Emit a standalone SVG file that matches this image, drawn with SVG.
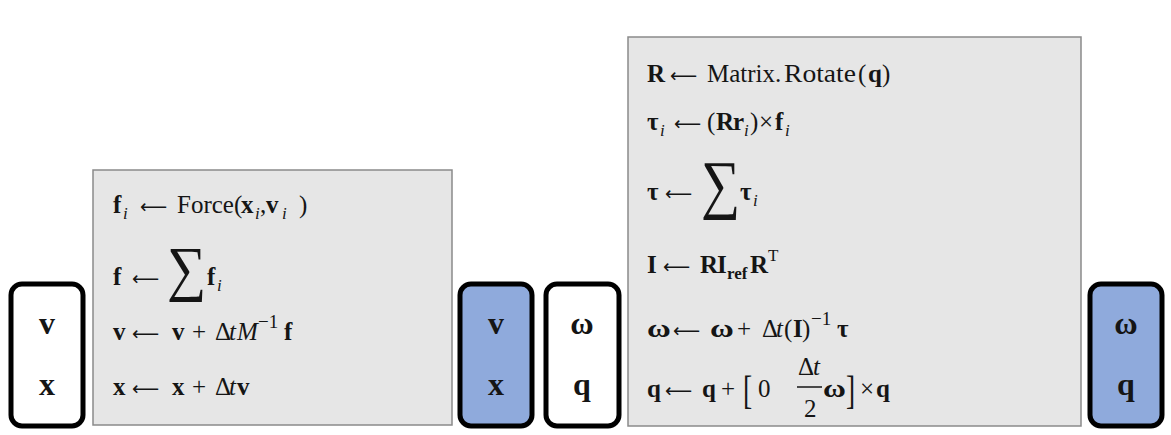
<svg xmlns="http://www.w3.org/2000/svg" width="1171" height="435" viewBox="0 0 1171 435">
<style>
.t{font-family:"Liberation Serif","DejaVu Serif",serif;font-size:25px;fill:#151515}
.b{font-weight:bold}
.i{font-style:italic}
.s{font-size:17px}
.sup{font-size:19px}
.sum{font-size:50px}
.ar{font-family:"DejaVu Sans",sans-serif;font-size:19px;fill:#151515}
.lbl{font-family:"Liberation Serif","DejaVu Serif",serif;font-size:32px;font-weight:bold;text-anchor:middle;fill:#151515}
.gray{fill:#e6e6e6;stroke:#8a8a8a;stroke-width:1.5}
.state{stroke:#000;stroke-width:5}
</style>
<rect width="1171" height="435" fill="#ffffff"/>

<g id="state-in-linear">
<rect class="state" x="11" y="284" width="72" height="142" rx="11" fill="#ffffff"/>
<text class="lbl" x="47" y="334">v</text>
<text class="lbl" x="47" y="395">x</text>
</g>

<g id="linear-update">
<rect class="gray" x="93" y="170" width="359" height="255"/>
<text class="t b" x="113" y="213">f</text><text class="t i s" x="123" y="219">i</text>
<text class="ar" x="140" y="213">⟵</text>
<text class="t" x="177" y="213">Force(</text>
<text class="t b" x="241" y="213">x</text><text class="t i s" x="255" y="219">i</text>
<text class="t" x="260" y="213">,</text>
<text class="t b" x="266" y="213">v</text><text class="t i s" x="282" y="219">i</text>
<text class="t" x="299" y="213">)</text>

<text class="t b" x="113" y="285">f</text>
<text class="ar" x="132" y="285">⟵</text>
<text class="t sum" transform="translate(167,289) scale(1.1,1.22)">∑</text>
<text class="t b" x="207" y="285">f</text><text class="t i s" x="217" y="291">i</text>

<text class="t b" x="113" y="340">v</text>
<text class="ar" x="132" y="340">⟵</text>
<text class="t b" x="172" y="340">v</text>
<text class="t" x="192" y="340">+</text>
<text class="t" x="215" y="340">Δ</text>
<text class="t i" x="229" y="340">t</text>
<text class="t i" x="237" y="340">M</text>
<text class="t sup" x="258" y="328">−1</text>
<text class="t b" x="284" y="340">f</text>

<text class="t b" x="113" y="395">x</text>
<text class="ar" x="132" y="395">⟵</text>
<text class="t b" x="172" y="395">x</text>
<text class="t" x="192" y="395">+</text>
<text class="t" x="215" y="395">Δ</text>
<text class="t i" x="229" y="395">t</text>
<text class="t b" x="237" y="395">v</text>
</g>

<g id="state-out-linear">
<rect class="state" x="460" y="284" width="72" height="142" rx="11" fill="#8faadc"/>
<text class="lbl" x="496" y="334">v</text>
<text class="lbl" x="496" y="395">x</text>
</g>

<g id="state-in-angular">
<rect class="state" x="546" y="284" width="73" height="142" rx="11" fill="#ffffff"/>
<text class="lbl" x="582" y="334">ω</text>
<text class="lbl" x="582" y="395">q</text>
</g>

<g id="angular-update">
<rect class="gray" x="628" y="37" width="453" height="389"/>
<text class="t b" x="647" y="82">R</text>
<text class="ar" x="670" y="82">⟵</text>
<text class="t" x="707" y="82">Matrix.</text>
<text class="t" x="784" y="82" textLength="72" lengthAdjust="spacingAndGlyphs">Rotate</text>
<text class="t" x="858" y="82">(</text>
<text class="t b" x="868" y="82">q</text>
<text class="t" x="882" y="82">)</text>

<text class="t b" x="647" y="130">τ</text><text class="t i s" x="660" y="136">i</text>
<text class="ar" x="674" y="130">⟵</text>
<text class="t" x="707" y="130">(</text>
<text class="t b" x="716" y="130">R</text>
<text class="t b" x="733" y="130">r</text><text class="t i s" x="744" y="136">i</text>
<text class="t" x="750" y="130">)</text>
<text class="t" x="759" y="130">×</text>
<text class="t b" x="775" y="130">f</text><text class="t i s" x="785" y="136">i</text>

<text class="t b" x="647" y="200">τ</text>
<text class="ar" x="665" y="200">⟵</text>
<text class="t sum" transform="translate(701,206) scale(1.1,1.3)">∑</text>
<text class="t b" x="740" y="200">τ</text><text class="t i s" x="753" y="206">i</text>

<text class="t b" x="647" y="273">I</text>
<text class="ar" x="663" y="273">⟵</text>
<text class="t b" x="700" y="273">R</text>
<text class="t b" x="717" y="273">I</text>
<text class="t b s" x="727" y="279">ref</text>
<text class="t b" x="750" y="273">R</text>
<text class="t s" x="768" y="261">T</text>

<text class="t b" transform="translate(647,337) scale(1.3,1)">ω</text>
<text class="ar" x="673" y="337">⟵</text>
<text class="t b" transform="translate(710,337) scale(1.3,1)">ω</text>
<text class="t" x="737" y="337">+</text>
<text class="t" x="762" y="337">Δ</text>
<text class="t i" x="776" y="337">t</text>
<text class="t" x="784" y="337">(</text>
<text class="t b" x="793" y="337">I</text>
<text class="t" x="802" y="337">)</text>
<text class="t sup" x="811" y="325">−1</text>
<text class="t b" x="837" y="337">τ</text>

<text class="t b" x="647" y="397">q</text>
<text class="ar" x="665" y="397">⟵</text>
<text class="t b" x="702" y="397">q</text>
<text class="t" x="721" y="397">+</text>
<text class="t" transform="translate(743,404) scale(1.1,1.6)">[</text>
<text class="t" x="758" y="397">0</text>
<text class="t" x="798" y="375">Δ</text>
<text class="t i" x="813" y="375">t</text>
<line x1="797" y1="387" x2="822" y2="387" stroke="#151515" stroke-width="1.5"/>
<text class="t" x="804" y="417">2</text>
<text class="t b" transform="translate(823,397) scale(1.25,1)">ω</text>
<text class="t" transform="translate(846,404) scale(1.1,1.6)">]</text>
<text class="t" x="860" y="397">×</text>
<text class="t b" x="876" y="397">q</text>
</g>

<g id="state-out-angular">
<rect class="state" x="1090" y="284" width="72" height="142" rx="11" fill="#8faadc"/>
<text class="lbl" x="1126" y="334">ω</text>
<text class="lbl" x="1126" y="395">q</text>
</g>

<g id="connectors"/>
</svg>
